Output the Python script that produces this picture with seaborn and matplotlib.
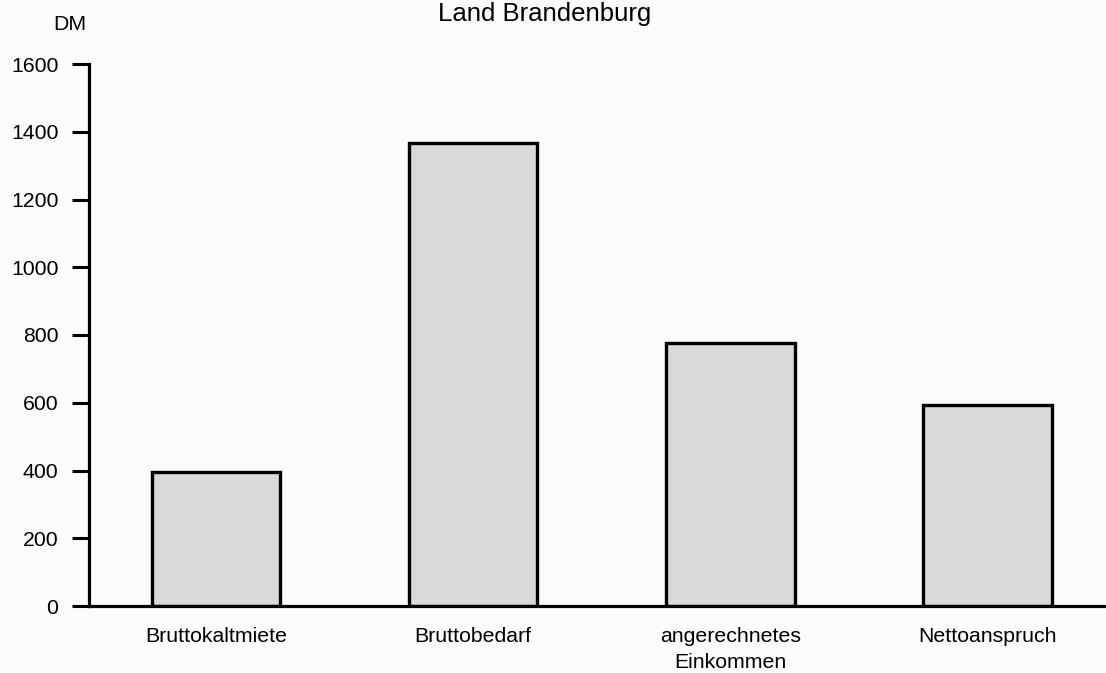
import matplotlib
matplotlib.use("Agg")
import matplotlib.pyplot as plt
import seaborn as sns
import pandas as pd

categories = ["Bruttokaltmiete", "Bruttobedarf", "angerechnetes\nEinkommen", "Nettoanspruch"]
values = [395, 1368, 777, 592]
yticks = [0, 200, 400, 600, 800, 1000, 1200, 1400, 1600]

sns.set_theme(style="white")
plt.rcParams['font.family'] = ['Liberation Sans', 'DejaVu Sans']

df = pd.DataFrame({"cat": categories, "val": values})

fig = plt.figure(figsize=(11.06, 6.73), dpi=100)
fig.patch.set_facecolor("#fbfbfb")
ax = fig.add_axes([89/1106, 67/673, 1017/1106, 542/673])
ax.set_facecolor("#fbfbfb")

sns.barplot(data=df, x="cat", y="val", ax=ax, color="#d9d9d9", saturation=1,
            edgecolor="black", linewidth=2.4, width=0.5)

ax.set_xlim(-0.494, 3.461)
ax.set_ylim(0, 1600)
ax.set_yticks(yticks)
ax.set_yticklabels([str(t) for t in yticks], fontsize=15.3, color="black")
ax.tick_params(axis="y", direction="out", length=12, width=2.2, pad=10, color="black", left=True)
ax.tick_params(axis="x", length=0, pad=15, labelsize=15.3, labelcolor="black")
for lbl in ax.get_xticklabels():
    lbl.set_linespacing(1.5)
ax.set_xlabel("")
ax.set_ylabel("")
for s in ["top", "right"]:
    ax.spines[s].set_visible(False)
for s in ["left", "bottom"]:
    ax.spines[s].set_linewidth(2.3)
    ax.spines[s].set_color("black")
ax.grid(False)

fig.text(70/1106, 1 - 30/673, "DM", fontsize=15.3, ha="center", va="baseline", color="black")
fig.text(545/1106, 1 - 21/673, "Land Brandenburg", fontsize=18.5, ha="center", va="baseline", color="black")

fig.savefig("out.png", dpi=100, facecolor=fig.get_facecolor())
